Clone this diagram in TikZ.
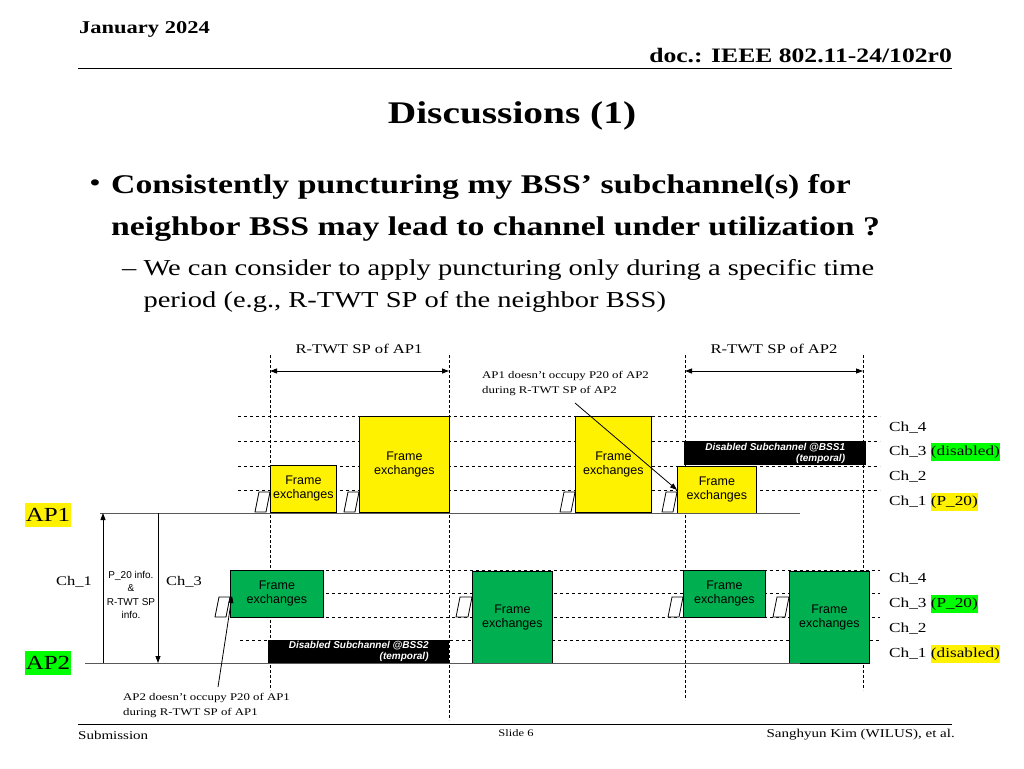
\documentclass[tikz,border=0pt]{standalone}
\usepackage{fontspec}
\setmainfont[FakeStretch=1.25]{Liberation Serif}
\newfontfamily\sansf{Liberation Sans}
\usetikzlibrary{arrows.meta}
\begin{document}
\begin{tikzpicture}[x=1pt,y=-1pt,
  fx/.style={draw,line width=0.8pt,align=center,font=\sansf\fontsize{12.5}{14}\selectfont,inner sep=0pt},
  dis/.style={fill=black,text=white,align=right,font=\sansf\bfseries\itshape\fontsize{10}{11}\selectfont,inner sep=1pt},
  grid/.style={dashed,line width=0.6pt},
  vgrid/.style={densely dashed,line width=0.6pt},
  lab/.style={font=\fontsize{13.8}{16}\selectfont,anchor=west,inner sep=0pt},
  par/.style={draw,fill=white,line width=0.8pt},
  ar/.style={-{Triangle[length=7pt,width=5pt]},line width=0.8pt}]
\useasboundingbox (0,0) rectangle (1024,768);
% header
\node[anchor=base west,font=\bfseries\fontsize{18}{20}\selectfont,inner sep=0pt] (date) at (79,34) {January 2024};
\node[anchor=base east,font=\bfseries\fontsize{20.5}{22}\selectfont,inner sep=0pt] (doc) at (952,63) {doc.: IEEE 802.11-24/102r0};
\draw[line width=1pt] (78,68) -- (952,68);
\node[font=\bfseries\fontsize{31.5}{36}\selectfont] (title) at (512,116) {Discussions (1)};
\node[font=\fontsize{26}{30}\selectfont] (b1) at (95,186) {•};
\node[anchor=north west,align=left,font=\bfseries\fontsize{27}{42}\selectfont,inner sep=0pt] (bt) at (111,174) {Consistently puncturing my BSS’ subchannel(s) for\\neighbor BSS may lead to channel under utilization ?};
\node[anchor=north west,align=left,font=\fontsize{22.8}{32}\selectfont,inner sep=0pt] (st) at (122,259) {– We can consider to apply puncturing only during a specific time\\\hphantom{– }period (e.g., R-TWT SP of the neighbor BSS)};
% footer
\draw[line width=1pt] (78,724) -- (952,724);
\node[anchor=west,font=\fontsize{12}{14}\selectfont,inner sep=0pt] (sub) at (78,735) {Submission};
\node[font=\fontsize{10}{12}\selectfont] (sl) at (516,733) {Slide 6};
\node[anchor=east,font=\fontsize{12}{14}\selectfont,inner sep=0pt] (auth) at (955,735) {Sanghyun Kim (WILUS), et al.};
% vertical dashed
\draw[vgrid] (270,355) -- (270,690);
\draw[vgrid] (449,355) -- (449,720);
\draw[vgrid] (685,355) -- (685,700);
\draw[vgrid] (863,355) -- (863,690);
\coordinate (s1a) at (270,371); \coordinate (s1b) at (449,371);
\coordinate (s2a) at (685,371); \coordinate (s2b) at (863,371);
\draw[{Triangle[length=7pt,width=5pt]}-{Triangle[length=7pt,width=5pt]},line width=0.9pt] (s1a) -- (s1b);
\draw[{Triangle[length=7pt,width=5pt]}-{Triangle[length=7pt,width=5pt]},line width=0.9pt] (s2a) -- (s2b);
\node[font=\fontsize{13.3}{15}\selectfont] (r1) at (359,349) {R-TWT SP of AP1};
\node[font=\fontsize{13.3}{15}\selectfont] (r2) at (774,349) {R-TWT SP of AP2};
\node[anchor=north west,align=left,font=\fontsize{10.25}{15}\selectfont,inner sep=0pt] (n1) at (482,371) {AP1 doesn’t occupy P20 of AP2\\during R-TWT SP of AP2};
% AP1 grid
\foreach \y in {416,441,466,490} \draw[grid] (238,\y) -- (880,\y);
\node[lab] (c14) at (889,428) {Ch\_4};
\node[lab] (c13) at (889,452) {Ch\_3 \colorbox[RGB]{0,255,0}{\rule{0pt}{9pt}\hspace{-3pt}(disabled)\hspace{-3pt}}};
\node[lab] (c12) at (889,477) {Ch\_2};
\node[lab] (c11) at (889,502) {Ch\_1 \colorbox{yellow}{\rule{0pt}{9pt}\hspace{-3pt}(P\_20)\hspace{-3pt}}};
\node[dis,minimum width=182pt,minimum height=24pt,anchor=north west] (d1) at (684,441) {Disabled Subchannel @BSS1\\(temporal)};
\foreach \a/\b in {255/270,344/359,560/575,662/677}
  \draw[par] (\a+4,492) -- (\b,492) -- (\b-4,512) -- (\a,512) -- cycle;
\node[fx,fill=yellow,minimum width=66pt,minimum height=47pt,anchor=north west] (y1) at (270,465) {Frame\\exchanges};
\node[fx,fill=yellow,minimum width=90pt,minimum height=96pt,anchor=north west] (y2) at (359,416) {Frame\\exchanges};
\node[fx,fill=yellow,minimum width=76pt,minimum height=96pt,anchor=north west] (y3) at (575,416) {Frame\\exchanges};
\node[fx,fill=yellow,minimum width=79pt,minimum height=47pt,anchor=north west] (y4) at (677,466) {Frame\\exchanges};
\draw[line width=1pt,gray!70!black] (100,513) -- (800,513);
\node[fill=yellow,font=\fontsize{20}{22}\selectfont,inner sep=1pt,minimum height=24pt] (ap1) at (48,515) {AP1};
\coordinate (n1s) at (575,403);
\draw[ar] (n1s) -- (y4.west);
% AP2 grid
\foreach \y in {570,593,617} \draw[grid] (230,\y) -- (880,\y);
\draw[grid] (240,640) -- (880,640);
\node[lab] (c24) at (889,579) {Ch\_4};
\node[lab] (c23) at (889,604) {Ch\_3 \colorbox[RGB]{0,255,0}{\rule{0pt}{9pt}\hspace{-3pt}(P\_20)\hspace{-3pt}}};
\node[lab] (c22) at (889,629) {Ch\_2};
\node[lab] (c21) at (889,654) {Ch\_1 \colorbox{yellow}{\rule{0pt}{9pt}\hspace{-3pt}(disabled)\hspace{-3pt}}};
\node[dis,minimum width=181pt,minimum height=23pt,anchor=north west] (d2) at (268,640) {Disabled Subchannel @BSS2\\(temporal)};
\foreach \a/\b in {215/230,456/472,668/683,773/789}
  \draw[par] (\a+4,597) -- (\b,597) -- (\b-4,617) -- (\a,617) -- cycle;
\definecolor{gr}{RGB}{0,176,80}
\node[fx,fill=gr,minimum width=93pt,minimum height=47pt,anchor=north west] (g1) at (230,570) {Frame\\exchanges};
\node[fx,fill=gr,minimum width=80pt,minimum height=92pt,anchor=north west] (g2) at (472,571) {Frame\\exchanges};
\node[fx,fill=gr,minimum width=82pt,minimum height=47pt,anchor=north west] (g3) at (683,570) {Frame\\exchanges};
\node[fx,fill=gr,minimum width=80pt,minimum height=92pt,anchor=north west] (g4) at (789,571) {Frame\\exchanges};
\draw[line width=1pt,gray!70!black] (85,663) -- (800,663);
\node[fill=green,font=\fontsize{20}{22}\selectfont,inner sep=1pt,minimum height=24pt] (ap2) at (48,663) {AP2};
% inter-AP
\coordinate (v1b) at (103,663); \coordinate (v1t) at (103,513);
\coordinate (v2t) at (158,513); \coordinate (v2b) at (158,663);
\draw[ar] (v1b) -- (v1t);
\draw[ar] (v2t) -- (v2b);
\node[align=center,font=\sansf\fontsize{10}{13.5}\selectfont,inner sep=0pt] (info) at (131,595) {P\_20 info.\\\&\\R-TWT SP\\info.};
\node[font=\fontsize{13.2}{17}\selectfont] (ch1) at (74,582) {Ch\_1};
\node[font=\fontsize{13.2}{17}\selectfont] (ch3) at (184,582) {Ch\_3};
\node[anchor=north west,align=left,font=\fontsize{10.25}{15}\selectfont,inner sep=0pt] (n2) at (123,693) {AP2 doesn’t occupy P20 of AP1\\during R-TWT SP of AP1};
\coordinate (n2s) at (218,687);
\draw[ar] (n2s) -- (232,596);
\end{tikzpicture}
\end{document}
